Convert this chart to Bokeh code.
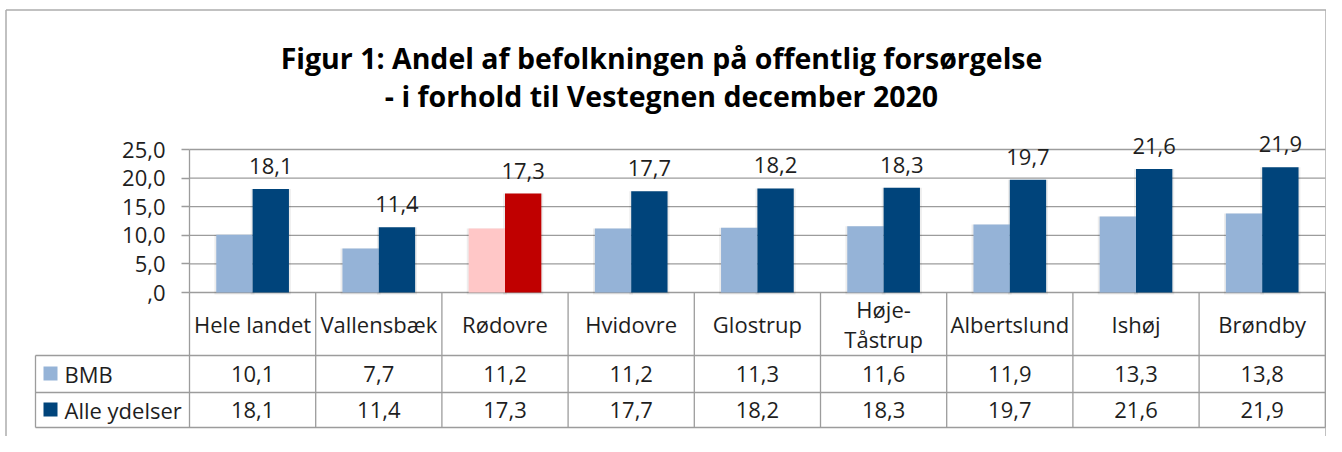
from bokeh.plotting import figure
from bokeh.models import Range1d, FixedTicker, ColumnDataSource
from bokeh.core.properties import value
from bokeh.embed import file_html
from bokeh.resources import INLINE

# ---------------- data ----------------
categories = ["Hele landet", "Vallensbæk", "Rødovre", "Hvidovre", "Glostrup",
              "Høje-Tåstrup", "Albertslund", "Ishøj", "Brøndby"]
bmb = [10.1, 7.7, 11.2, 11.2, 11.3, 11.6, 11.9, 13.3, 13.8]
alle = [18.1, 11.4, 17.3, 17.7, 18.2, 18.3, 19.7, 21.6, 21.9]
series_names = ["BMB", "Alle ydelser"]
yticks = [0, 5, 10, 15, 20, 25]
ytick_labels = [",0", "5,0", "10,0", "15,0", "20,0", "25,0"]
title_lines = ["Figur 1: Andel af befolkningen på offentlig forsørgelse",
               "- i forhold til Vestegnen december 2020"]
highlight = "Rødovre"

# ---------------- style ----------------
LIGHT, DARK = "#95B3D7", "#00447B"
PINK, RED = "#FFC7C7", "#C00000"
GRID = "#9C9C9C"
BORDER = "#ADADAD"
TXT = "#1E1E1E"
FONT = "Open Sans"
FS = "22px"

W, H = 1326, 436
PX0, PY0, PXU, PYU = 189.0, 292.0, 126.2, 5.72
def X(px): return (px - PX0) / PXU          # figure px -> data x (layout only)
def Y(py): return (PY0 - py) / PYU          # figure px -> data y (layout only)

p = figure(width=W, height=H,
           x_range=Range1d(X(0), X(W)), y_range=Range1d(Y(H), Y(0)),
           output_backend="svg", toolbar_location=None,
           min_border=0, min_border_left=0, min_border_right=0,
           min_border_top=0, min_border_bottom=0,
           outline_line_color=None, background_fill_color="white")
p.xaxis.visible = False
p.grid.visible = False

n = len(categories)
centers = [i + 0.5 for i in range(n)]
BW = 0.288
OFF = 0.144

# outer chart border (left, top, right)
p.segment(x0=[X(5.5), X(5.5), X(1325.5)], y0=[Y(9.5), Y(9.5), Y(9.5)],
          x1=[X(5.5), X(1325.5), X(1325.5)], y1=[Y(H), Y(9.5), Y(H)],
          line_color=BORDER, line_width=1.5)

# gridlines
p.segment(x0=[0] * len(yticks), y0=yticks, x1=[n] * len(yticks), y1=yticks,
          line_color=GRID, line_width=1.3)

# table lines
row_tops = [Y(355), Y(392), Y(427)]
p.segment(x0=[X(35)] * 3, y0=row_tops, x1=[n] * 3, y1=row_tops,
          line_color=GRID, line_width=1.3)
p.segment(x0=list(range(n + 1)), y0=[0] * (n + 1), x1=list(range(n + 1)),
          y1=[Y(427)] * (n + 1), line_color=GRID, line_width=1.3)
p.segment(x0=[X(35)], y0=[Y(355)], x1=[X(35)], y1=[Y(427)],
          line_color=GRID, line_width=1.3)

# bars
bmb_colors = [PINK if c == highlight else LIGHT for c in categories]
alle_colors = [RED if c == highlight else DARK for c in categories]
src = ColumnDataSource(dict(
    xb=[c - OFF for c in centers], xa=[c + OFF for c in centers],
    bmb=bmb, alle=alle, cb=bmb_colors, ca=alle_colors,
    lab=[f"{v:.1f}".replace(".", ",") for v in alle],
))
# soft shadows
p.vbar(x="xb", top="bmb", width=BW + 0.03, bottom=-0.35, source=src,
       fill_color="#000000", fill_alpha=0.07, line_color=None)
p.vbar(x="xa", top="alle", width=BW + 0.03, bottom=-0.35, source=src,
       fill_color="#000000", fill_alpha=0.07, line_color=None)
p.vbar(x="xb", top="bmb", width=BW, source=src, fill_color="cb", line_color=None)
p.vbar(x="xa", top="alle", width=BW, source=src, fill_color="ca", line_color=None)

# data labels
p.text(x="xa", y="alle", text="lab", source=src, y_offset=-23,
       text_align="center", text_baseline="middle",
       text_font=value(FONT), text_font_size=FS, text_color=TXT)

# y axis
ax = p.yaxis[0]
ax.ticker = FixedTicker(ticks=yticks)
ax.major_label_overrides = {t: l for t, l in zip(yticks, ytick_labels)}
ax.fixed_location = 0
ax.bounds = (yticks[0], yticks[-1])
ax.major_tick_out = 8
ax.major_tick_in = 0
ax.minor_tick_line_color = None
ax.major_label_standoff = 16
ax.axis_line_color = GRID
ax.axis_line_width = 1.3
ax.major_tick_line_color = GRID
ax.major_tick_line_width = 1.3
ax.major_label_text_font = FONT
ax.major_label_text_font_size = FS
ax.major_label_text_color = TXT

# table: category row
p.text(x=centers, y=[Y(323)] * n, text=[c.replace("-", "-\n") for c in categories],
       text_align="center", text_baseline="middle", text_line_height=1.0,
       text_font=value(FONT), text_font_size=FS, text_color=TXT)
# table: value rows
fmt = lambda v: f"{v:.1f}".replace(".", ",")
p.text(x=centers, y=[Y(373)] * n, text=[fmt(v) for v in bmb],
       text_align="center", text_baseline="middle",
       text_font=value(FONT), text_font_size=FS, text_color=TXT)
p.text(x=centers, y=[Y(409)] * n, text=[fmt(v) for v in alle],
       text_align="center", text_baseline="middle",
       text_font=value(FONT), text_font_size=FS, text_color=TXT)
# legend keys in table
p.scatter(x=[X(50)] * 2, y=[Y(373), Y(409)], marker="square", size=14,
          fill_color=[LIGHT, DARK], line_color=None)
p.text(x=[X(64)] * 2, y=[Y(373), Y(409)], text=series_names,
       text_align="left", text_baseline="middle",
       text_font=value(FONT), text_font_size=FS, text_color=TXT)

# title
p.text(x=[X(661)] * 2, y=[Y(57), Y(95)], text=title_lines,
       text_align="center", text_baseline="alphabetic",
       text_font=value(FONT), text_font_style="bold", text_font_size="28.5px",
       text_color="#000000")

open("out.html", "w").write(file_html(p, INLINE))
